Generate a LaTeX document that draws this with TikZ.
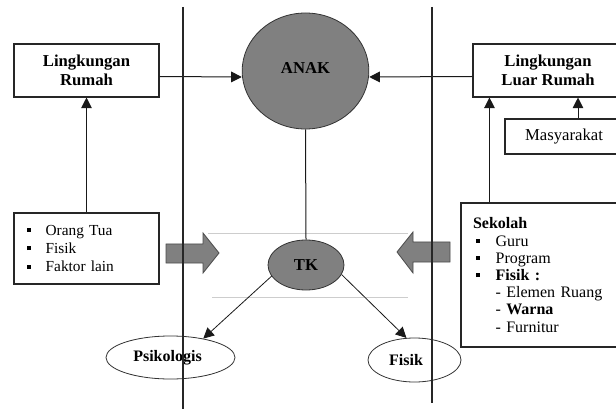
\documentclass[tikz,border=0pt]{standalone}
\usepackage{fontspec}
\setmainfont{Liberation Serif}
\usetikzlibrary{arrows.meta,shapes.geometric,calc}
\definecolor{fillgray}{RGB}{128,128,128}
\definecolor{guidegray}{RGB}{205,205,205}
\tikzset{>={Triangle[length=8pt,width=8pt]}}
\tikzset{
  box/.style={draw=black!85, line width=0.8pt, inner sep=0pt},
  bubble/.style={ellipse, draw=black!80, line width=0.6pt, inner sep=0pt},
  blockarrow/.style={draw=black!70, fill=fillgray, line width=0.6pt},
  divider/.style={draw=black!85, line width=0.8pt},
  link/.style={draw=black!90, line width=0.75pt}
}
\newcommand{\sqbullet}[1]{\makebox[#1][l]{\rule[2.5pt]{3pt}{3pt}}}

\begin{document}
\begin{tikzpicture}[x=0.75pt,y=-0.75pt]
        \useasboundingbox (0,0) rectangle (616,409);
        % guide lines round TK
        \draw[guidegray, line width=0.7pt] (208,233) -- (408,233);
        \draw[guidegray, line width=0.7pt] (212,297) -- (408,297);
        % boxes
        \node[box, minimum width=108.75pt, minimum height=39.75pt, align=center,
          font=\fontsize{12.5}{14}\selectfont\bfseries] (rumah) at (86.5,70.5)
          {Lingkungan\\Rumah};
        \node[box, minimum width=112.5pt, minimum height=39.75pt, align=center,
          font=\fontsize{12.5}{14}\selectfont\bfseries] (luar) at (548,70.5)
          {Lingkungan\\Luar Rumah};
        \node[box, minimum width=88.5pt, minimum height=26.25pt,
          font=\fontsize{12.5}{14}\selectfont] (masy) at (564,136.5) {Masyarakat};
        \node[box, inner xsep=9.75pt, text width=89.25pt, minimum height=53.25pt,
          align=left, font=\fontsize{11.5}{13.8}\selectfont] (orang) at (86.5,248.5)
          {\sqbullet{14pt}Orang Tua\\ \sqbullet{14pt}Fisik\\ \sqbullet{14pt}Faktor lain};
        \node[box, inner xsep=9pt, text width=104.25pt, minimum height=108pt,
          align=left, font=\fontsize{12}{12.9}\selectfont] (sekolah) at (542.5,275)
          {\textbf{Sekolah}\\
           \hspace*{2pt}\sqbullet{15pt}Guru\\
           \hspace*{2pt}\sqbullet{15pt}Program\\
           \hspace*{2pt}\sqbullet{15pt}\textbf{Fisik :}\\
           \hspace*{17pt}- Elemen Ruang\\
           \hspace*{17pt}- \textbf{Warna}\\
           \hspace*{17pt}- Furnitur};
        % ellipses
        \node[bubble, fill=fillgray, minimum width=95pt, minimum height=87pt,
          font=\fontsize{12.5}{14}\selectfont\bfseries] (anak) at (305.5,71)
          {\raisebox{4pt}{ANAK}};
        \node[bubble, fill=fillgray, minimum width=57pt, minimum height=37.5pt,
          font=\fontsize{12.5}{14}\selectfont\bfseries] (tk) at (306,265) {TK};
        \node[bubble, minimum width=96.75pt, minimum height=32.25pt,
          font=\fontsize{12}{14}\selectfont\bfseries] (psi) at (170.5,357.5)
          {\hspace*{-4.5pt}Psikologis};
        \node[bubble, minimum width=69.75pt, minimum height=33pt,
          font=\fontsize{12}{14}\selectfont\bfseries] (fisik) at (414.5,360)
          {\hspace*{-12.75pt}Fisik};
        % block arrows
        \draw[blockarrow] (166,244) -- (203,244) -- (203,233) -- (219,253)
          -- (203,273) -- (203,263) -- (166,263) -- cycle;
        \draw[blockarrow] (450,242) -- (413,242) -- (413,232) -- (397,252)
          -- (413,273) -- (413,262) -- (450,262) -- cycle;
        % connectors
        \draw[link, ->] ([yshift=-4.5pt]rumah.east) -- ([yshift=-4.5pt]anak.west);
        \draw[link, ->] ([yshift=-4.5pt]luar.west) -- ([yshift=-4.5pt]anak.east);
        \draw[link, ->] (orang.north) -- (rumah.south);
        \draw[link, ->] ([xshift=21.75pt]sekolah.north west)
          -- ([xshift=21.75pt]sekolah.north west |- luar.south);
        \draw[link, ->] ([xshift=10.5pt]masy.north) -- ([xshift=10.5pt]masy.north |- luar.south);
        \draw[link] (anak.south) -- (tk.north);
        \draw[link, ->, line width=0.6pt] (tk.198) -- (psi.30);
        \draw[link, ->, line width=0.6pt] (tk.-15) -- (fisik.110);
        % dividers
        \draw[divider] (183,7) -- (183,409);
        \draw[divider] (432,7) -- (432,403);
      \end{tikzpicture}
\end{document}
